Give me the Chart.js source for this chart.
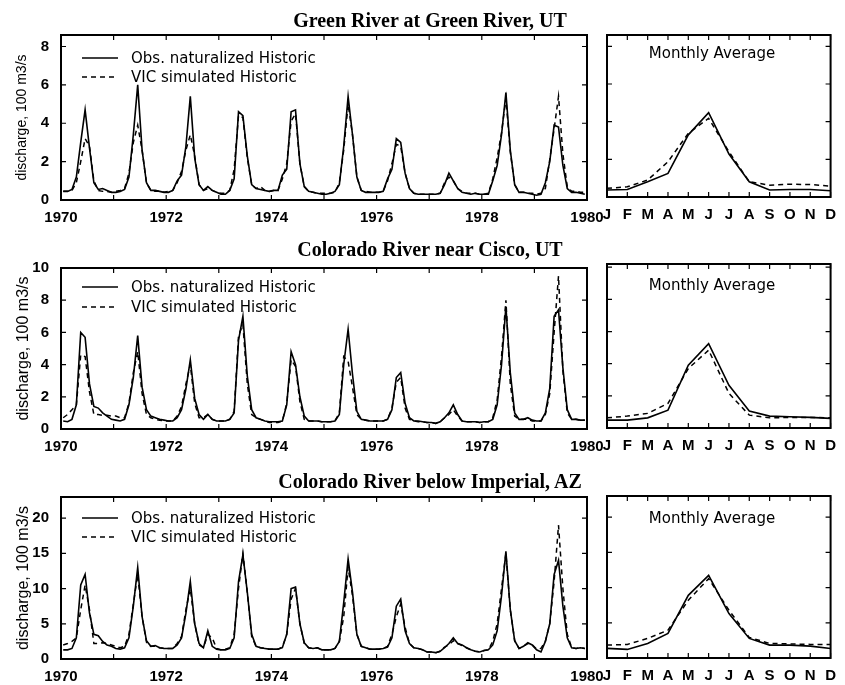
<!DOCTYPE html>
<html lang="en">
  <head>
    <meta charset="utf-8" />
    <title>Observed vs VIC simulated discharge</title>
    <script src="https://cdn.jsdelivr.net/npm/chart.js@4.4.1/dist/chart.umd.min.js"></script>
    <style>
* {
  margin: 0;
  padding: 0;
  box-sizing: border-box;
}
body {
  width: 845px;
  height: 685px;
  position: relative;
  overflow: hidden;
  background: #fff;
  color: #000;
  font-family: "Liberation Sans", Arial, sans-serif;
}
canvas {
  position: absolute;
  left: 0;
  top: 0;
}
.title {
  position: absolute;
  left: 430px;
  transform: translate(-50%, -50%);
  white-space: nowrap;
  font-family: "Liberation Serif", "Times New Roman", serif;
  font-weight: bold;
  font-size: 20px;
}
.legend {
  position: absolute;
  left: 82px;
  font-family: "DejaVu Sans", sans-serif;
  font-size: 15px;
}
.lrow {
  display: flex;
  align-items: center;
  height: 19px;
}
.lrow span {
  margin-left: 13px;
}
.avg {
  position: absolute;
  left: 712px;
  transform: translate(-50%, -50%);
  white-space: nowrap;
  font-family: "DejaVu Sans", sans-serif;
  font-size: 15px;
}
    </style>
  </head>
  <body>
    <canvas id="ts1" width="845" height="685"></canvas>
    <canvas id="ma1" width="845" height="685"></canvas>
    <canvas id="ts2" width="845" height="685"></canvas>
    <canvas id="ma2" width="845" height="685"></canvas>
    <canvas id="ts3" width="845" height="685"></canvas>
    <canvas id="ma3" width="845" height="685"></canvas>

    <div class="title" style="top: 20px">Green River at Green River, UT</div>
    <div class="title" style="top: 249px">Colorado River near Cisco, UT</div>
    <div class="title" style="top: 481px">Colorado River below Imperial, AZ</div>

    <div class="legend" style="top: 48px">
      <div class="lrow"><svg width="36" height="6"><line x1="0" y1="3" x2="36" y2="3" stroke="#000" stroke-width="1.4" /></svg><span>Obs. naturalized Historic</span></div>
      <div class="lrow"><svg width="36" height="6"><line x1="0" y1="3" x2="36" y2="3" stroke="#000" stroke-width="1.4" stroke-dasharray="5 4" /></svg><span>VIC simulated Historic</span></div>
    </div>
    <div class="legend" style="top: 277px">
      <div class="lrow" style="height: 20px"><svg width="36" height="6"><line x1="0" y1="3" x2="36" y2="3" stroke="#000" stroke-width="1.4" /></svg><span>Obs. naturalized Historic</span></div>
      <div class="lrow" style="height: 20px"><svg width="36" height="6"><line x1="0" y1="3" x2="36" y2="3" stroke="#000" stroke-width="1.4" stroke-dasharray="5 4" /></svg><span>VIC simulated Historic</span></div>
    </div>
    <div class="legend" style="top: 508px">
      <div class="lrow"><svg width="36" height="6"><line x1="0" y1="3" x2="36" y2="3" stroke="#000" stroke-width="1.4" /></svg><span>Obs. naturalized Historic</span></div>
      <div class="lrow"><svg width="36" height="6"><line x1="0" y1="3" x2="36" y2="3" stroke="#000" stroke-width="1.4" stroke-dasharray="5 4" /></svg><span>VIC simulated Historic</span></div>
    </div>

    <div class="avg" style="top: 53px">Monthly Average</div>
    <div class="avg" style="top: 285px">Monthly Average</div>
    <div class="avg" style="top: 518px">Monthly Average</div>

    <script>
      // monthly series, Jan 1970 .. Dec 1979, discharge in 100 m3/s
      const startYear = 1970;
      const monthLabels = ["J", "F", "M", "A", "M", "J", "J", "A", "S", "O", "N", "D"];
      const yearTicks = [1970, 1971, 1972, 1973, 1974, 1975, 1976, 1977, 1978, 1979, 1980];
      const yearLabels = ["1970", "", "1972", "", "1974", "", "1976", "", "1978", "", "1980"];

      // Green River at Green River, UT
      const greenTicks = [0, 2, 4, 6, 8];
      const greenObs = [
        0.45, 0.45, 0.55, 1.2, 3.0, 4.7, 2.7, 0.9, 0.55, 0.6, 0.5, 0.4,
        0.4, 0.45, 0.55, 1.2, 3.4, 6.0, 2.6, 0.9, 0.5, 0.5, 0.45, 0.4,
        0.4, 0.5, 1.0, 1.3, 2.8, 5.4, 2.2, 0.8, 0.5, 0.7, 0.5, 0.4,
        0.3, 0.3, 0.5, 1.1, 4.6, 4.4, 2.3, 0.8, 0.6, 0.55, 0.5, 0.45,
        0.5, 0.5, 1.3, 1.6, 4.6, 4.7, 1.9, 0.7, 0.45, 0.4, 0.35, 0.3,
        0.3, 0.35, 0.45, 0.8, 2.8, 5.4, 3.4, 1.2, 0.5, 0.4, 0.4, 0.4,
        0.4, 0.45, 1.1, 1.6, 3.2, 3.0, 1.4, 0.6, 0.35, 0.3, 0.3, 0.3,
        0.3, 0.3, 0.35, 0.8, 1.4, 1.0, 0.6, 0.4, 0.35, 0.3, 0.35, 0.3,
        0.3, 0.3, 1.0, 1.8, 3.4, 5.6, 2.6, 0.8, 0.4, 0.4, 0.35, 0.3,
        0.25, 0.3, 0.9, 2.0, 3.9, 3.8, 1.8, 0.6, 0.4, 0.4, 0.35, 0.3
      ];
      const greenVic = [
        0.45, 0.45, 0.5, 0.9, 2.0, 3.2, 2.8, 1.0, 0.5, 0.45, 0.45, 0.4,
        0.45, 0.5, 0.6, 1.4, 3.0, 3.9, 2.6, 0.9, 0.5, 0.45, 0.45, 0.4,
        0.45, 0.5, 0.9, 1.5, 2.6, 3.4, 2.3, 0.8, 0.5, 0.6, 0.5, 0.4,
        0.35, 0.35, 0.5, 1.6, 4.4, 4.3, 2.2, 0.8, 0.6, 0.7, 0.5, 0.45,
        0.5, 0.5, 1.1, 1.9, 4.1, 4.5, 1.9, 0.7, 0.45, 0.4, 0.35, 0.35,
        0.35, 0.35, 0.4, 0.9, 2.6, 5.0, 3.4, 1.2, 0.5, 0.45, 0.4, 0.4,
        0.4, 0.45, 1.0, 1.9, 2.9, 2.8, 1.4, 0.6, 0.35, 0.3, 0.3, 0.3,
        0.3, 0.3, 0.35, 0.9, 1.2, 1.0, 0.6, 0.45, 0.35, 0.35, 0.35, 0.3,
        0.3, 0.35, 1.1, 2.2, 3.5, 5.3, 2.5, 0.8, 0.4, 0.4, 0.35, 0.35,
        0.3, 0.35, 0.6, 2.1, 3.7, 5.4, 2.4, 0.7, 0.45, 0.45, 0.4, 0.4
      ];
      const greenAvgObs = [0.37, 0.4, 0.81, 1.25, 3.3, 4.48, 2.28, 0.81, 0.37, 0.4, 0.4, 0.33];
      const greenAvgVic = [0.46, 0.54, 0.9, 1.87, 3.38, 4.18, 2.4, 0.81, 0.63, 0.68, 0.66, 0.58];

      // Colorado River near Cisco, UT
      const ciscoTicks = [0, 2, 4, 6, 8, 10];
      const ciscoObs = [
        0.5, 0.45, 0.6, 1.5, 6.0, 5.7, 2.8, 1.4, 1.3, 1.0, 0.8, 0.6,
        0.55, 0.5, 0.6, 1.5, 3.2, 5.8, 2.6, 1.2, 0.8, 0.7, 0.6, 0.55,
        0.5, 0.5, 0.7, 1.2, 2.5, 4.3, 1.9, 0.9, 0.6, 0.9, 0.6, 0.5,
        0.5, 0.5, 0.6, 1.0, 5.5, 7.0, 3.3, 1.2, 0.7, 0.6, 0.5, 0.45,
        0.45, 0.45, 0.5, 1.5, 4.8, 4.0, 2.0, 0.8, 0.5, 0.5, 0.5, 0.45,
        0.45, 0.45, 0.5, 0.9, 4.0, 6.2, 3.4, 1.1, 0.6, 0.55, 0.5, 0.5,
        0.5, 0.5, 0.6, 1.2, 3.2, 3.5, 1.6, 0.7, 0.5, 0.5, 0.45, 0.4,
        0.4, 0.35, 0.45, 0.7, 1.0, 1.5, 0.9, 0.5, 0.45, 0.45, 0.45, 0.4,
        0.45, 0.45, 0.6, 1.5, 4.0, 7.6, 3.5, 1.0, 0.6, 0.6, 0.7, 0.55,
        0.5, 0.5, 1.0, 2.5, 7.0, 7.4, 3.8, 1.2, 0.6, 0.6, 0.55, 0.55
      ];
      const ciscoVic = [
        0.7, 0.9, 1.2, 1.5, 4.6, 4.5, 2.3, 0.9, 0.9, 0.85, 0.85, 0.8,
        0.8, 0.7, 0.7, 1.6, 3.5, 4.8, 2.2, 0.9, 0.7, 0.6, 0.55, 0.5,
        0.5, 0.5, 0.8, 1.4, 2.8, 4.0, 1.6, 0.7, 0.7, 0.9, 0.6, 0.5,
        0.5, 0.5, 0.6, 1.1, 5.8, 6.5, 2.8, 0.9, 0.7, 0.6, 0.5, 0.4,
        0.4, 0.4, 0.5, 1.6, 4.3, 3.9, 1.7, 0.6, 0.5, 0.5, 0.5, 0.45,
        0.45, 0.45, 0.5, 1.0, 4.5, 4.2, 2.6, 0.9, 0.6, 0.55, 0.5, 0.5,
        0.5, 0.5, 0.6, 1.3, 2.9, 3.2, 1.3, 0.6, 0.5, 0.45, 0.45, 0.4,
        0.4, 0.35, 0.45, 0.7, 0.9, 1.2, 0.8, 0.5, 0.45, 0.45, 0.45, 0.4,
        0.45, 0.45, 0.7, 1.8, 4.5, 8.0, 2.8, 0.8, 0.6, 0.6, 0.6, 0.5,
        0.5, 0.5, 0.9, 2.2, 6.0, 9.5, 3.6, 1.0, 0.6, 0.6, 0.55, 0.55
      ];
      const ciscoAvgObs = [0.49, 0.49, 0.63, 1.11, 3.9, 5.25, 2.66, 1.05, 0.74, 0.7, 0.66, 0.6];
      const ciscoAvgVic = [0.63, 0.74, 0.91, 1.53, 3.7, 4.84, 2.15, 0.8, 0.63, 0.66, 0.66, 0.63];

      // Colorado River below Imperial, AZ
      const imperialTicks = [0, 5, 10, 15, 20];
      const imperialObs = [
        1.3, 1.3, 1.5, 3.0, 10.5, 12.0, 6.5, 3.5, 3.3, 2.5, 2.0, 1.8,
        1.5, 1.4, 1.6, 3.0, 7.5, 13.0, 6.0, 2.6, 1.8, 1.9, 1.6, 1.5,
        1.5, 1.5, 2.0, 3.0, 6.5, 11.0, 5.0, 2.2, 1.6, 4.0, 1.8, 1.4,
        1.3, 1.3, 1.5, 3.0, 11.0, 14.8, 9.5, 3.5, 1.8, 1.6, 1.5, 1.4,
        1.4, 1.4, 1.6, 3.5, 10.0, 10.2, 5.0, 2.3, 1.6, 1.5, 1.6, 1.3,
        1.3, 1.3, 1.5, 2.5, 8.0, 14.2, 9.5, 3.5, 1.8, 1.6, 1.4, 1.4,
        1.4, 1.5, 1.7, 3.0, 7.5, 8.5, 4.0, 2.2, 1.6, 1.5, 1.3, 1.0,
        1.0, 0.9, 1.1, 1.6, 2.2, 3.0, 2.2, 2.0, 1.6, 1.3, 1.1, 1.0,
        1.2, 1.3, 2.0, 4.0, 9.0, 15.3, 7.0, 2.6, 1.5, 1.8, 2.3, 2.0,
        1.3, 1.0, 2.5, 5.0, 12.0, 14.0, 7.5, 3.0, 1.6, 1.5, 1.6, 1.5
      ];
      const imperialVic = [
        2.0, 2.2, 2.5, 3.0, 7.0, 10.5, 7.0, 2.2, 2.2, 2.3, 2.2, 2.0,
        1.8, 1.6, 1.8, 3.5, 7.8, 12.0, 6.0, 2.4, 1.8, 1.8, 1.6, 1.5,
        1.5, 1.5, 2.2, 3.2, 7.0, 10.0, 5.0, 2.0, 1.6, 3.5, 3.0, 1.5,
        1.3, 1.4, 1.6, 3.5, 10.0, 15.0, 9.5, 3.2, 1.8, 1.6, 1.5, 1.4,
        1.4, 1.4, 1.7, 3.5, 8.5, 10.0, 5.0, 2.2, 1.6, 1.5, 1.6, 1.3,
        1.3, 1.3, 1.5, 2.5, 6.0, 13.0, 9.0, 3.5, 1.8, 1.6, 1.4, 1.4,
        1.4, 1.5, 1.8, 3.5, 6.0, 7.8, 4.5, 2.2, 1.6, 1.5, 1.3, 1.0,
        1.0, 0.9, 1.1, 1.7, 2.0, 2.6, 2.2, 1.9, 1.6, 1.3, 1.1, 1.0,
        1.2, 1.3, 2.5, 5.0, 10.0, 15.0, 7.0, 2.6, 1.5, 1.8, 2.2, 2.0,
        1.4, 1.5, 2.5, 5.0, 11.0, 19.0, 10.0, 3.5, 1.6, 1.5, 1.6, 1.5
      ];
      const imperialAvgObs = [1.36, 1.22, 2.07, 3.48, 8.9, 11.74, 6.3, 2.78, 1.83, 1.83, 1.69, 1.36];
      const imperialAvgVic = [1.83, 1.93, 2.78, 3.95, 8.2, 11.27, 6.78, 2.92, 2.07, 2.0, 1.93, 1.93];

      const W = 845, H = 685;
      const tickFont = { family: "'Liberation Sans', Arial, sans-serif", size: 15, weight: "bold" };

      // frame round the plot area, with inward ticks on all four sides
      const frameTicks = {
        id: "frameTicks",
        afterDraw(chart) {
          const { ctx, chartArea: a, scales } = chart;
          const len = 5;
          ctx.save();
          ctx.strokeStyle = "#000";
          ctx.lineWidth = 1.2;
          ctx.beginPath();
          scales.y.ticks.forEach((t, i) => {
            const py = scales.y.getPixelForTick(i);
            ctx.moveTo(a.left, py); ctx.lineTo(a.left + len, py);
            ctx.moveTo(a.right, py); ctx.lineTo(a.right - len, py);
          });
          scales.x.ticks.forEach((t, i) => {
            const px = scales.x.getPixelForTick(i);
            ctx.moveTo(px, a.bottom); ctx.lineTo(px, a.bottom - len);
            ctx.moveTo(px, a.top); ctx.lineTo(px, a.top + len);
          });
          ctx.stroke();
          ctx.lineWidth = 2;
          ctx.strokeRect(a.left, a.top, a.right - a.left, a.bottom - a.top);
          ctx.restore();
        }
      };

      const obsStyle = { borderColor: "#000", borderWidth: 1.6, pointRadius: 0, tension: 0, fill: false };
      const vicStyle = { borderColor: "#000", borderWidth: 1.5, borderDash: [5, 4], pointRadius: 0, tension: 0, fill: false };

      function toPoints(values) {
        return values.map((v, i) => ({ x: startYear + (i + 0.5) / 12, y: v }));
      }

      function fixedTicks(values) {
        return (scale) => {
          scale.ticks = values.map((v) => ({ value: v }));
        };
      }

      function seriesChart(id, box, yMax, yTicks, obs, vic, titleSize) {
        return new Chart(document.getElementById(id), {
          type: "line",
          plugins: [frameTicks],
          data: {
            datasets: [
              Object.assign({ label: "Obs. naturalized Historic", data: toPoints(obs) }, obsStyle),
              Object.assign({ label: "VIC simulated Historic", data: toPoints(vic) }, vicStyle)
            ]
          },
          options: {
            responsive: false,
            animation: false,
            events: [],
            layout: { padding: { left: 0, top: box.top, right: W - 587, bottom: H - box.bottom - 30 } },
            plugins: { legend: { display: false }, tooltip: { enabled: false } },
            scales: {
              x: {
                type: "linear",
                min: yearTicks[0],
                max: yearTicks[yearTicks.length - 1],
                grid: { display: false, drawTicks: false },
                border: { display: false },
                afterBuildTicks: fixedTicks(yearTicks),
                afterFit: (s) => { s.height = 30; },
                ticks: {
                  autoSkip: false,
                  maxRotation: 0,
                  padding: 9,
                  color: "#000",
                  font: tickFont,
                  callback: (v, i) => yearLabels[i]
                }
              },
              y: {
                min: 0,
                max: yMax,
                grid: { display: false, drawTicks: false },
                border: { display: false },
                afterBuildTicks: fixedTicks(yTicks),
                afterFit: (s) => { s.width = 61; },
                ticks: { padding: 12, color: "#000", font: tickFont },
                title: {
                  display: true,
                  text: "discharge, 100 m3/s",
                  color: "#000",
                  padding: { top: 14, bottom: 0 },
                  font: { family: "'Liberation Sans', Arial, sans-serif", size: titleSize }
                }
              }
            }
          }
        });
      }

      function averageChart(id, box, yMax, yTicks, obs, vic) {
        return new Chart(document.getElementById(id), {
          type: "line",
          plugins: [frameTicks],
          data: {
            labels: monthLabels,
            datasets: [
              Object.assign({ label: "Obs. naturalized Historic", data: obs }, obsStyle),
              Object.assign({ label: "VIC simulated Historic", data: vic }, vicStyle)
            ]
          },
          options: {
            responsive: false,
            animation: false,
            events: [],
            layout: { padding: { left: 607, top: box.top, right: W - 839, bottom: H - box.bottom - 30 } },
            plugins: { legend: { display: false }, tooltip: { enabled: false } },
            scales: {
              x: {
                offset: false,
                grid: { display: false, drawTicks: false },
                border: { display: false },
                afterFit: (s) => { s.height = 30; },
                ticks: { autoSkip: false, maxRotation: 0, padding: 9, color: "#000", font: tickFont }
              },
              y: {
                min: 0,
                max: yMax,
                grid: { display: false, drawTicks: false },
                border: { display: false },
                afterBuildTicks: fixedTicks(yTicks),
                afterFit: (s) => { s.width = 0; },
                ticks: { display: false }
              }
            }
          }
        });
      }

      seriesChart("ts1", { top: 35, bottom: 200 }, 8.6, greenTicks, greenObs, greenVic, 14);
      averageChart("ma1", { top: 35, bottom: 197 }, 8.6, greenTicks, greenAvgObs, greenAvgVic);
      seriesChart("ts2", { top: 268, bottom: 429 }, 10, ciscoTicks, ciscoObs, ciscoVic, 16);
      averageChart("ma2", { top: 264, bottom: 428 }, 10.2, ciscoTicks, ciscoAvgObs, ciscoAvgVic);
      seriesChart("ts3", { top: 497, bottom: 659 }, 23, imperialTicks, imperialObs, imperialVic, 16);
      averageChart("ma3", { top: 496, bottom: 658 }, 23, imperialTicks, imperialAvgObs, imperialAvgVic);
    </script>
  </body>
</html>
